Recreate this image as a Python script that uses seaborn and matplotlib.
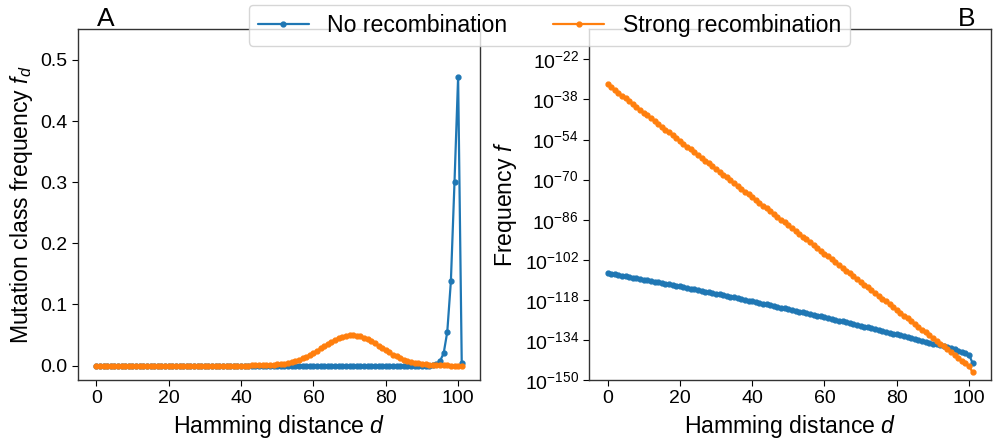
import numpy as np
import pandas as pd
import seaborn as sns
import matplotlib.pyplot as plt
from matplotlib.ticker import NullLocator

sns.set_style("ticks")
plt.rcParams["font.family"] = ["Liberation Sans", "DejaVu Sans"]
plt.rcParams["mathtext.fontset"] = "custom"
plt.rcParams["mathtext.rm"] = "Liberation Sans"
plt.rcParams["mathtext.it"] = "Liberation Sans:italic"
plt.rcParams["text.color"] = "black"
plt.rcParams["axes.labelcolor"] = "black"
plt.rcParams["xtick.color"] = "black"
plt.rcParams["ytick.color"] = "black"

# Hamming distance
d = list(range(102))

# panel A: mutation class frequency f_d
no_rec_fd = [0.0] * 93 + [0.0007, 0.0025, 0.0076, 0.020, 0.055, 0.138, 0.300, 0.472, 0.004]
strong_rec_fd = [0.0] * 40 + [
    0.00003, 0.00005, 0.00008, 0.00013, 0.0002, 0.0003, 0.00044, 0.00064, 0.00092, 0.0013,
    0.0018, 0.0025, 0.0033, 0.0044, 0.0058, 0.0075, 0.0094, 0.0118, 0.0144, 0.0174,
    0.0207, 0.0243, 0.0280, 0.0318, 0.0355, 0.0391, 0.0423, 0.0451, 0.0473, 0.0489,
    0.0497, 0.0498, 0.0491, 0.0477, 0.0456, 0.0429, 0.0397, 0.0362, 0.0325, 0.0288,
    0.0250, 0.0214, 0.0181, 0.0150, 0.0123, 0.0099, 0.0078, 0.0061, 0.0047, 0.0035,
    0.0026, 0.0019, 0.0014, 0.0010, 0.0007, 0.0005, 0.0003, 0.0002, 0.0001, 0.0001,
    0.0, 0.0,
]

# panel B: log10 of single-sequence frequency f
no_rec_log_f = [
    -107.2, -107.5, -107.7, -108.0, -108.3, -108.5, -108.8, -109.1, -109.3, -109.6,
    -109.9, -110.1, -110.4, -110.7, -111.0, -111.2, -111.5, -111.8, -112.1, -112.4,
    -112.6, -112.9, -113.2, -113.5, -113.8, -114.1, -114.4, -114.7, -115.0, -115.2,
    -115.5, -115.8, -116.1, -116.4, -116.7, -117.0, -117.3, -117.6, -118.0, -118.3,
    -118.6, -118.9, -119.2, -119.5, -119.8, -120.1, -120.4, -120.7, -121.1, -121.4,
    -121.7, -122.0, -122.3, -122.7, -123.0, -123.3, -123.6, -124.0, -124.3, -124.6,
    -125.0, -125.3, -125.6, -126.0, -126.3, -126.6, -127.0, -127.3, -127.7, -128.0,
    -128.3, -128.7, -129.0, -129.4, -129.7, -130.1, -130.4, -130.8, -131.1, -131.5,
    -131.8, -132.2, -132.6, -132.9, -133.3, -133.6, -134.0, -134.4, -134.7, -135.1,
    -135.5, -135.8, -136.2, -136.6, -136.9, -137.3, -137.7, -138.3, -138.8, -139.3,
    -139.9, -143.4,
]
strong_rec_log_f = [
    -32.0, -33.1, -34.3, -35.4, -36.5, -37.6, -38.8, -39.9, -41.0, -42.1,
    -43.3, -44.4, -45.5, -46.6, -47.8, -48.9, -50.0, -51.1, -52.3, -53.4,
    -54.5, -55.6, -56.8, -57.9, -59.0, -60.1, -61.3, -62.4, -63.5, -64.6,
    -65.8, -66.9, -68.0, -69.1, -70.3, -71.4, -72.5, -73.6, -74.8, -75.9,
    -77.0, -78.1, -79.3, -80.4, -81.5, -82.6, -83.8, -84.9, -86.0, -87.1,
    -88.3, -89.4, -90.5, -91.6, -92.8, -93.9, -95.0, -96.1, -97.3, -98.4,
    -99.5, -100.6, -101.8, -102.9, -104.0, -105.1, -106.3, -107.4, -108.5, -109.6,
    -110.8, -111.9, -113.0, -114.1, -115.3, -116.4, -117.5, -118.6, -119.8, -120.9,
    -122.0, -123.1, -124.3, -125.4, -126.5, -127.6, -128.8, -129.9, -131.0, -132.1,
    -133.3, -134.4, -135.5, -136.6, -137.8, -138.9, -140.0, -141.1, -142.3, -143.4,
    -144.5, -147.0,
]

labels = ["No recombination", "Strong recombination"]
colors = ["#1f77b4", "#ff7f0e"]

df_a = pd.DataFrame({
    "d": d + d,
    "fd": no_rec_fd + strong_rec_fd,
    "model": [labels[0]] * len(d) + [labels[1]] * len(d),
})
df_b = pd.DataFrame({
    "d": d + d,
    "f": 10.0 ** np.array(no_rec_log_f + strong_rec_log_f),
    "model": [labels[0]] * len(d) + [labels[1]] * len(d),
})

fig = plt.figure(figsize=(10.08, 4.38), dpi=100)
ax1 = fig.add_axes([0.0774, 0.1324, 0.3988, 0.8007])
ax2 = fig.add_axes([0.5846, 0.1324, 0.3985, 0.8007])

line_kw = dict(marker=".", markersize=7, markeredgewidth=1.0, linewidth=1.6, legend=False)
sns.lineplot(data=df_a, x="d", y="fd", hue="model", palette=colors, ax=ax1, **line_kw)
ax2.set_yscale("log")
sns.lineplot(data=df_b, x="d", y="f", hue="model", palette=colors, ax=ax2, **line_kw)

# seaborn gives white marker edges by default; match them to the line
for ax in (ax1, ax2):
    for ln in ax.lines:
        ln.set_markeredgecolor(ln.get_color())

tick_fs = 14
label_fs = 16.6

ax1.set_xlim(-5.05, 106.05)
ax1.set_ylim(-0.0236, 0.55)
ax1.set_yticks([0.0, 0.1, 0.2, 0.3, 0.4, 0.5])
ax1.set_xticks([0, 20, 40, 60, 80, 100])
ax1.set_xlabel("Hamming distance $d$", fontsize=label_fs)
ax1.set_ylabel("Mutation class frequency $f_d$", fontsize=label_fs)

ax2.set_xlim(-5.05, 106.05)
ax2.set_ylim(1e-150, 1e-10)
ax2.set_yticks([10.0 ** e for e in range(-150, -21, 16)])
ax2.yaxis.set_minor_locator(NullLocator())
ax2.set_xticks([0, 20, 40, 60, 80, 100])
ax2.set_xlabel("Hamming distance $d$", fontsize=label_fs)
ax2.set_ylabel("Frequency $f$", fontsize=label_fs)

for ax in (ax1, ax2):
    ax.tick_params(labelsize=tick_fs, length=4)
    for s in ax.spines.values():
        s.set_color("#333333")
        s.set_linewidth(1.0)

fig.text(0.096, 0.94, "A", fontsize=19)
fig.text(0.950, 0.94, "B", fontsize=19)

fig.legend(ax1.lines[:2], labels, loc="upper center", bbox_to_anchor=(0.545, 1.0),
           borderaxespad=0.2, ncol=2, fontsize=label_fs, handlelength=2.2,
           columnspacing=2.0, frameon=True)

fig.savefig("out.png", dpi=100)
